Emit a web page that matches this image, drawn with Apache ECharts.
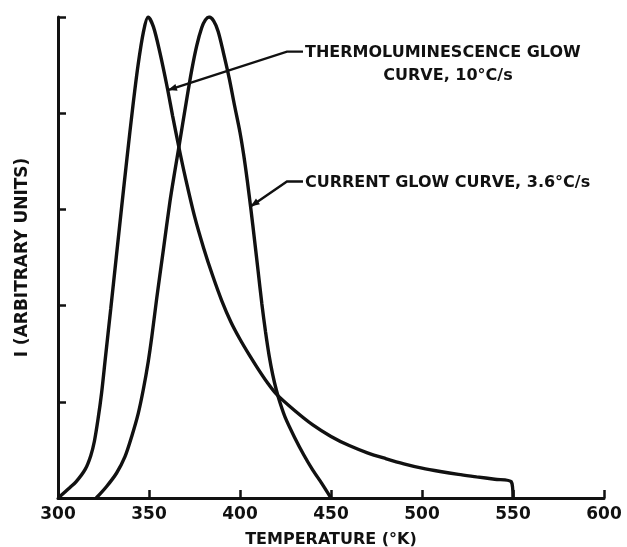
<!DOCTYPE html>
<html>
<head>
<meta charset="utf-8">
<script src="https://cdn.jsdelivr.net/npm/echarts@6/dist/echarts.min.js"></script>
<style>html,body{margin:0;padding:0;background:#fff}#c{width:627px;height:547px}</style>
</head>
<body>
<div id="c"></div>
<script>
// Data
const xTickValues = [300, 350, 400, 450, 500, 550, 600];
const tlTemps = [300, 306.6, 310, 315, 318, 320, 322, 324, 326, 329, 332, 335, 338, 341, 344, 347, 349.5, 352.4, 356, 360, 363, 366.7, 370, 375, 380, 385, 390, 395, 400, 405, 410, 415, 420, 430, 440, 450, 460, 470, 480, 490, 500, 510, 520, 530, 540, 549, 550];
const tlValues = [0, 0.11, 0.17, 0.3, 0.44, 0.59, 0.82, 1.1, 1.45, 1.97, 2.5, 3.03, 3.55, 4.05, 4.5, 4.85, 5.0, 4.9, 4.63, 4.27, 3.97, 3.62, 3.33, 2.93, 2.6, 2.31, 2.05, 1.83, 1.65, 1.49, 1.34, 1.2, 1.08, 0.91, 0.76, 0.64, 0.545, 0.47, 0.41, 0.355, 0.31, 0.275, 0.245, 0.22, 0.195, 0.17, 0];
const cgTemps = [321, 326.7, 332.2, 336.8, 340.5, 344.1, 346.9, 349.6, 351.5, 354.2, 357.9, 361.5, 364.3, 366.7, 370.5, 373.5, 376.2, 379, 381, 383, 385.5, 388, 391, 394, 397, 400, 402, 404, 406, 408, 410, 412, 414, 416, 418, 420, 422, 425, 430, 435, 440, 445, 450];
const cgValues = [0, 0.12, 0.26, 0.43, 0.64, 0.88, 1.13, 1.42, 1.67, 2.07, 2.58, 3.08, 3.41, 3.68, 4.12, 4.45, 4.7, 4.89, 4.97, 5.0, 4.96, 4.85, 4.62, 4.37, 4.08, 3.8, 3.57, 3.3, 3.0, 2.68, 2.35, 2.02, 1.73, 1.48, 1.28, 1.12, 0.99, 0.83, 0.63, 0.45, 0.29, 0.15, 0];
const tlLabel = ['THERMOLUMINESCENCE GLOW', 'CURVE, 10°C/s'];
const cgLabel = 'CURRENT GLOW CURVE, 3.6°C/s';
const tlLeader = [[360.4, 4.24], [425.8, 4.64], [434.6, 4.64]];
const cgLeader = [[405.8, 3.03], [425.8, 3.29], [434.6, 3.29]];

const FONT = 'DejaVu Sans';
const chart = echarts.init(document.getElementById('c'));
function pairs(xs, ys) { return xs.map((x, i) => [x, ys[i]]); }

chart.setOption({
  animation: false,
  backgroundColor: '#ffffff',
  grid: { left: 58, right: 23, top: 17, bottom: 49, containLabel: false, outerBoundsMode: 'none' },
  xAxis: {
    type: 'value', min: 300, max: 600, interval: 50,
    name: 'TEMPERATURE (°K)', nameLocation: 'middle', nameGap: 34,
    nameTextStyle: { color: '#111', fontFamily: FONT, fontWeight: 'bold', fontSize: 16 },
    axisLine: { lineStyle: { color: '#111', width: 3 } },
    axisTick: { inside: true, length: 8, lineStyle: { color: '#111', width: 2.5 } },
    axisLabel: { color: '#111', fontFamily: FONT, fontWeight: 'bold', fontSize: 17, margin: 8,
      formatter: v => xTickValues.includes(v) ? String(v) : '' },
    splitLine: { show: false }
  },
  yAxis: {
    type: 'value', min: 0, max: 5, interval: 1,
    name: 'I (ARBITRARY UNITS)', nameLocation: 'middle', nameGap: 27,
    nameTextStyle: { color: '#111', fontFamily: FONT, fontWeight: 'bold', fontSize: 17 },
    axisLine: { lineStyle: { color: '#111', width: 3 } },
    axisTick: { inside: true, length: 8, lineStyle: { color: '#111', width: 2.5 } },
    axisLabel: { show: false },
    splitLine: { show: false }
  },
  series: [
    { type: 'line', data: pairs(tlTemps, tlValues), smooth: 0.3, symbol: 'none',
      lineStyle: { color: '#111', width: 3.4 } },
    { type: 'line', data: pairs(cgTemps, cgValues), smooth: 0.3, symbol: 'none',
      lineStyle: { color: '#111', width: 3.4 } }
  ]
});

function px(p) { return chart.convertToPixel({ gridIndex: 0 }, p); }
const tl = tlLeader.map(px), cg = cgLeader.map(px);
function arrowHead(tip, from) {
  const dx = from[0] - tip[0], dy = from[1] - tip[1];
  const L = Math.hypot(dx, dy), ux = dx / L, uy = dy / L;
  const len = 9, w = 3.5;
  return [tip, [tip[0] + ux * len - uy * w, tip[1] + uy * len + ux * w], [tip[0] + ux * len + uy * w, tip[1] + uy * len - ux * w]];
}
const textStyle = { fill: '#111', fontFamily: FONT, fontWeight: 'bold', fontSize: 16 };
chart.setOption({
  graphic: [
    { type: 'polyline', shape: { points: tl }, style: { stroke: '#111', lineWidth: 2.4, fill: null } },
    { type: 'polyline', shape: { points: cg }, style: { stroke: '#111', lineWidth: 2.4, fill: null } },
    { type: 'polygon', shape: { points: arrowHead(tl[0], tl[1]) }, style: { fill: '#111' } },
    { type: 'polygon', shape: { points: arrowHead(cg[0], cg[1]) }, style: { fill: '#111' } },
    { type: 'text', x: tl[2][0] + 2, y: tl[2][1] + 1, style: Object.assign({ text: tlLabel[0], verticalAlign: 'middle' }, textStyle) },
    { type: 'text', x: 448, y: tl[2][1] + 24, style: Object.assign({ text: tlLabel[1], verticalAlign: 'middle', align: 'center' }, textStyle) },
    { type: 'text', x: cg[2][0] + 2, y: cg[2][1] + 1, style: Object.assign({ text: cgLabel, verticalAlign: 'middle' }, textStyle) }
  ]
});
</script>
</body>
</html>
